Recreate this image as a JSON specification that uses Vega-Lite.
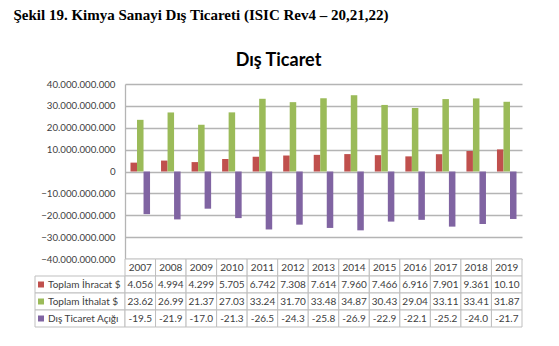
{
  "$schema": "https://vega.github.io/schema/vega-lite/v6.json",
  "background": "white",
  "padding": {"left": 13, "top": 8, "right": 0, "bottom": 0},
  "title": {
    "text": "Şekil 19. Kimya Sanayi Dış Ticareti (ISIC Rev4 – 20,21,22)",
    "anchor": "start",
    "dx": -21,
    "font": "Liberation Serif",
    "fontSize": 15,
    "fontWeight": "bold",
    "color": "#000000",
    "offset": 29
  },
  "datasets": {
    "bars": [
      {"year": "2007", "series": "Toplam İhracat $", "value": 4056000000, "text": "4.056"},
      {"year": "2008", "series": "Toplam İhracat $", "value": 4994000000, "text": "4.994"},
      {"year": "2009", "series": "Toplam İhracat $", "value": 4299000000, "text": "4.299"},
      {"year": "2010", "series": "Toplam İhracat $", "value": 5705000000, "text": "5.705"},
      {"year": "2011", "series": "Toplam İhracat $", "value": 6742000000, "text": "6.742"},
      {"year": "2012", "series": "Toplam İhracat $", "value": 7308000000, "text": "7.308"},
      {"year": "2013", "series": "Toplam İhracat $", "value": 7614000000, "text": "7.614"},
      {"year": "2014", "series": "Toplam İhracat $", "value": 7960000000, "text": "7.960"},
      {"year": "2015", "series": "Toplam İhracat $", "value": 7466000000, "text": "7.466"},
      {"year": "2016", "series": "Toplam İhracat $", "value": 6916000000, "text": "6.916"},
      {"year": "2017", "series": "Toplam İhracat $", "value": 7901000000, "text": "7.901"},
      {"year": "2018", "series": "Toplam İhracat $", "value": 9361000000, "text": "9.361"},
      {"year": "2019", "series": "Toplam İhracat $", "value": 10100000000, "text": "10.10"},
      {"year": "2007", "series": "Toplam İthalat $", "value": 23620000000, "text": "23.62"},
      {"year": "2008", "series": "Toplam İthalat $", "value": 26990000000, "text": "26.99"},
      {"year": "2009", "series": "Toplam İthalat $", "value": 21370000000, "text": "21.37"},
      {"year": "2010", "series": "Toplam İthalat $", "value": 27030000000, "text": "27.03"},
      {"year": "2011", "series": "Toplam İthalat $", "value": 33240000000, "text": "33.24"},
      {"year": "2012", "series": "Toplam İthalat $", "value": 31700000000, "text": "31.70"},
      {"year": "2013", "series": "Toplam İthalat $", "value": 33480000000, "text": "33.48"},
      {"year": "2014", "series": "Toplam İthalat $", "value": 34870000000, "text": "34.87"},
      {"year": "2015", "series": "Toplam İthalat $", "value": 30430000000, "text": "30.43"},
      {"year": "2016", "series": "Toplam İthalat $", "value": 29040000000, "text": "29.04"},
      {"year": "2017", "series": "Toplam İthalat $", "value": 33110000000, "text": "33.11"},
      {"year": "2018", "series": "Toplam İthalat $", "value": 33410000000, "text": "33.41"},
      {"year": "2019", "series": "Toplam İthalat $", "value": 31870000000, "text": "31.87"},
      {"year": "2007", "series": "Dış Ticaret Açığı", "value": -19500000000, "text": "-19.5"},
      {"year": "2008", "series": "Dış Ticaret Açığı", "value": -21900000000, "text": "-21.9"},
      {"year": "2009", "series": "Dış Ticaret Açığı", "value": -17000000000, "text": "-17.0"},
      {"year": "2010", "series": "Dış Ticaret Açığı", "value": -21300000000, "text": "-21.3"},
      {"year": "2011", "series": "Dış Ticaret Açığı", "value": -26500000000, "text": "-26.5"},
      {"year": "2012", "series": "Dış Ticaret Açığı", "value": -24300000000, "text": "-24.3"},
      {"year": "2013", "series": "Dış Ticaret Açığı", "value": -25800000000, "text": "-25.8"},
      {"year": "2014", "series": "Dış Ticaret Açığı", "value": -26900000000, "text": "-26.9"},
      {"year": "2015", "series": "Dış Ticaret Açığı", "value": -22900000000, "text": "-22.9"},
      {"year": "2016", "series": "Dış Ticaret Açığı", "value": -22100000000, "text": "-22.1"},
      {"year": "2017", "series": "Dış Ticaret Açığı", "value": -25200000000, "text": "-25.2"},
      {"year": "2018", "series": "Dış Ticaret Açığı", "value": -24000000000, "text": "-24.0"},
      {"year": "2019", "series": "Dış Ticaret Açığı", "value": -21700000000, "text": "-21.7"}
    ],
    "header": [
      {"year": "2007", "series": "Yıl"}, {"year": "2008", "series": "Yıl"}, {"year": "2009", "series": "Yıl"},
      {"year": "2010", "series": "Yıl"}, {"year": "2011", "series": "Yıl"}, {"year": "2012", "series": "Yıl"},
      {"year": "2013", "series": "Yıl"}, {"year": "2014", "series": "Yıl"}, {"year": "2015", "series": "Yıl"},
      {"year": "2016", "series": "Yıl"}, {"year": "2017", "series": "Yıl"}, {"year": "2018", "series": "Yıl"},
      {"year": "2019", "series": "Yıl"}
    ],
    "labels": [
      {"series": "Toplam İhracat $"},
      {"series": "Toplam İthalat $"},
      {"series": "Dış Ticaret Açığı"}
    ]
  },
  "vconcat": [
    {
      "title": {
        "text": "Dış Ticaret",
        "anchor": "middle",
        "font": "Lato",
        "fontSize": 18,
        "fontWeight": "bold",
        "color": "#000000",
        "offset": 9
      },
      "columns": 2,
      "spacing": 0,
      "bounds": "flush",
      "concat": [
        {
          "width": 90,
          "height": 175,
          "data": {"values": []},
          "mark": "point",
          "encoding": {}
        },
        {
          "width": 397,
          "height": 175,
          "data": {"name": "bars"},
          "mark": {"type": "bar"},
          "encoding": {
            "x": {"field": "year", "type": "nominal", "axis": null,
                  "scale": {"paddingInner": 0.36, "paddingOuter": 0.18}},
            "xOffset": {"field": "series", "type": "nominal",
                        "scale": {"domain": ["Toplam İhracat $", "Toplam İthalat $", "Dış Ticaret Açığı"], "paddingInner": 0, "paddingOuter": 0}},
            "y": {"field": "value", "type": "quantitative",
                  "scale": {"domain": [-40000000000, 40000000000], "nice": false},
                  "axis": {
                    "values": [-40000000000, -30000000000, -20000000000, -10000000000, 0, 10000000000, 20000000000, 30000000000, 40000000000],
                    "labelExpr": "join(split(format(datum.value, ','), ','), '.')",
                    "title": null,
                    "grid": true,
                    "gridColor": "#B4B4B4",
                    "gridWidth": 1.3,
                    "domainColor": "#B4B4B4",
                    "domainWidth": 1.3,
                    "ticks": false,
                    "labelPadding": 10,
                    "labelFont": "Lato",
                    "labelFontSize": 9.7,
                    "labelColor": "#404040"
                  }},
            "color": {"field": "series", "type": "nominal",
                      "scale": {"domain": ["Toplam İhracat $", "Toplam İthalat $", "Dış Ticaret Açığı"], "range": ["#C0504D", "#9BBB59", "#8064A2"]},
                      "legend": null}
          }
        },
        {
          "width": 90,
          "height": 68,
          "data": {"name": "labels"},
          "encoding": {
            "y": {"field": "series", "type": "nominal", "axis": null,
                  "scale": {"domain": ["Yıl", "Toplam İhracat $", "Toplam İthalat $", "Dış Ticaret Açığı"], "paddingInner": 0, "paddingOuter": 0}}
          },
          "layer": [
            {"mark": {"type": "rect", "fill": "white", "stroke": "#BFBFBF", "strokeWidth": 1}},
            {"mark": {"type": "point", "shape": "square", "filled": true, "size": 36, "opacity": 1, "xOffset": -39},
             "encoding": {"color": {"field": "series", "type": "nominal",
                      "scale": {"domain": ["Toplam İhracat $", "Toplam İthalat $", "Dış Ticaret Açığı"], "range": ["#C0504D", "#9BBB59", "#8064A2"]},
                      "legend": null}}},
            {"mark": {"type": "text", "align": "left", "xOffset": -32, "font": "Lato", "fontSize": 10, "color": "#404040"},
             "encoding": {"text": {"field": "series"}}}
          ]
        },
        {
          "width": 397,
          "height": 68,
          "encoding": {
            "x": {"field": "year", "type": "nominal", "axis": null, "scale": {"paddingInner": 0, "paddingOuter": 0}},
            "y": {"field": "series", "type": "nominal", "axis": null,
                  "scale": {"domain": ["Yıl", "Toplam İhracat $", "Toplam İthalat $", "Dış Ticaret Açığı"], "paddingInner": 0, "paddingOuter": 0}}
          },
          "layer": [
            {"data": {"name": "header"}, "mark": {"type": "rect", "fill": "white", "stroke": "#BFBFBF", "strokeWidth": 1}},
            {"data": {"name": "header"}, "mark": {"type": "text", "font": "Lato", "fontSize": 10, "color": "#404040"},
             "encoding": {"text": {"field": "year"}}},
            {"data": {"name": "bars"}, "mark": {"type": "rect", "fill": "white", "stroke": "#BFBFBF", "strokeWidth": 1}},
            {"data": {"name": "bars"}, "mark": {"type": "text", "font": "Lato", "fontSize": 10, "color": "#404040"},
             "encoding": {"text": {"field": "text"}}}
          ]
        }
      ]
    }
  ],
  "config": {"view": {"stroke": null}, "font": "Lato"}
}
